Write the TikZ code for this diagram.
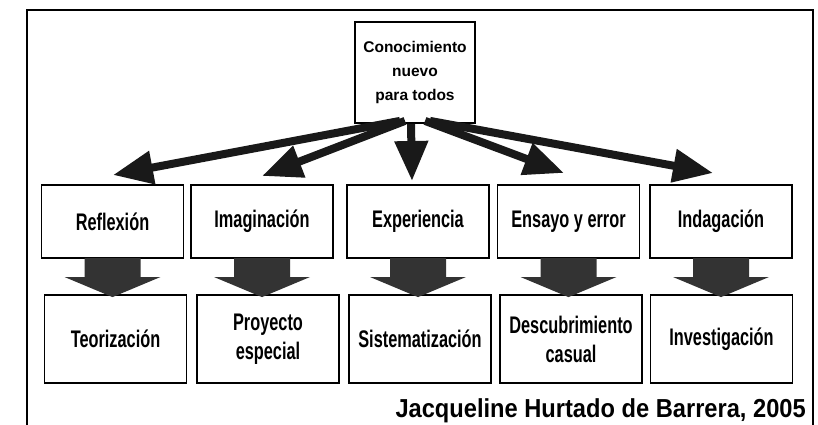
\documentclass[tikz,border=0pt]{standalone}
\usepackage{fontspec}
\setmainfont{Liberation Sans}
\newfontfamily\rowfont[FakeStretch=0.68]{Liberation Sans}
\newfontfamily\creditfont[FakeStretch=0.91]{Liberation Sans}
\usetikzlibrary{arrows.meta}
\tikzset{
  box/.style={draw=black, line width=1.8pt, fill=white, inner sep=0pt, align=center,
    font=\rowfont\fontsize{24}{29}\selectfont\bfseries},
  topbox/.style={box, minimum width=120pt, minimum height=101pt,
    font=\fontsize{15.5}{24}\selectfont\bfseries},
  midbox/.style={box, minimum width=142pt, minimum height=73pt},
  lowbox/.style={box, minimum width=142pt, minimum height=88pt},
  fatarrow/.style={line width=8pt, black!90, -{Triangle[length=40pt, width=32pt]}},
  blockarrow/.style={fill=black!80, draw=none},
  frame/.style={line width=2.5pt, black}
}
\begin{document}
\begin{tikzpicture}[x=1pt, y=-1pt]
\useasboundingbox (0,0) rectangle (818,425);
% frame
\draw[frame] (27,426) -- (27,10) -- (813,10) -- (813,426);
% top node
\node[topbox] (top) at (415,72.5) {Conocimiento\\nuevo\\para todos};
% middle row
\node[midbox] (m1) at (112.5,221.5) {Reflexión};
\node[midbox] (m2) at (262,221.5) {Imaginación};
\node[midbox] (m3) at (418,221.5) {Experiencia};
\node[midbox] (m4) at (568.5,221.5) {Ensayo y error};
\node[midbox] (m5) at (721,221.5) {Indagación};
% bottom row
\node[lowbox] (b1) at (115.5,339) {Teorización};
\node[lowbox] (b2) at (268,339) {Proyecto\\especial};
\node[lowbox] (b3) at (420,339) {Sistematización};
\node[lowbox] (b4) at (571,339) {Descubrimiento\\casual};
\node[lowbox] (b5) at (721.5,339) {Investigación};
% fat arrows from the top node
\coordinate (t1) at (113,175);
\coordinate (t2) at (262,176);
\coordinate (t3) at (412,181);
\coordinate (t4) at (564,173);
\coordinate (t5) at (713,173);
\draw[fatarrow] ([xshift=-15pt,yshift=3pt]top.south) -- (t1);
\draw[fatarrow] ([xshift=-10pt,yshift=3pt]top.south) -- (t2);
\draw[fatarrow] ([xshift=-4pt]top.south) -- (t3);
\draw[fatarrow] ([xshift=10pt,yshift=3pt]top.south) -- (t4);
\draw[fatarrow] ([xshift=15pt,yshift=3pt]top.south) -- (t5);
% block arrows between rows
\foreach \m/\b in {m1/b1, m2/b2, m3/b3, m4/b4, m5/b5}{
  \path (\m.south) coordinate (s) (\b.north) coordinate (e);
  \fill[blockarrow] ([xshift=-28pt,yshift=1pt]s) -- ([xshift=28pt,yshift=1pt]s)
    -- ([xshift=28pt]s |- 0,277) -- ([xshift=48pt]s |- 0,277)
    -- ([yshift=-3pt]s |- e) -- ([xshift=-48pt]s |- 0,277)
    -- ([xshift=-28pt]s |- 0,277) -- cycle;
}
% credit
\node[anchor=base east, font=\creditfont\bfseries\fontsize{26}{30}\selectfont, inner sep=0pt]
  (credit) at (806,417) {Jacqueline Hurtado de Barrera, 2005};
\end{tikzpicture}
\end{document}
